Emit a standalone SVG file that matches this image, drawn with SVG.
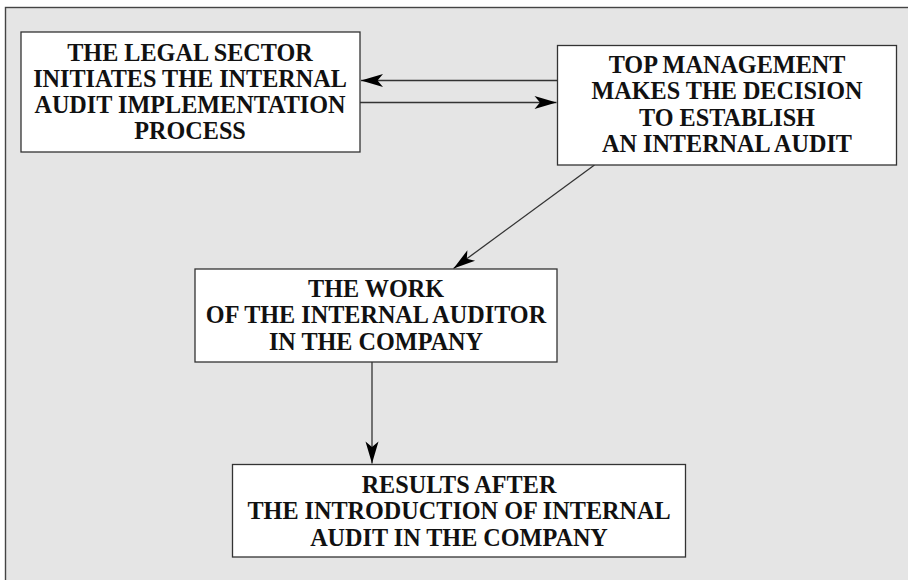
<svg xmlns="http://www.w3.org/2000/svg" width="908" height="580" viewBox="0 0 908 580">
  <style>
    .frame { fill: #e5e5e5; stroke: #444; stroke-width: 1.4; }
    .box { fill: #ffffff; stroke: #333; stroke-width: 1.3; }
    .lbl { font-family: "Liberation Serif", "Times New Roman", serif; font-weight: bold; font-size: 24.2px; fill: #111; text-anchor: middle; }
    .conn { stroke: #333; stroke-width: 1.3; fill: none; marker-end: url(#head); }
  </style>
  <defs>
    <marker id="head" markerUnits="userSpaceOnUse" viewBox="-23 -7 24 14" markerWidth="24" markerHeight="14" refX="0" refY="0" orient="auto">
      <path d="M0,0 L-22,-6.5 L-16.5,0 L-22,6.5 Z" fill="#000"/>
    </marker>
  </defs>

  <!-- background panel -->
  <rect class="frame" x="5.5" y="7.5" width="920" height="600"/>

  <g id="connectors">
    <line class="conn" x1="557.5" y1="80.5" x2="361" y2="80.5"/>
    <line class="conn" x1="360" y1="102.5" x2="556.5" y2="102.5"/>
    <line class="conn" x1="594.5" y1="165" x2="453.5" y2="268.5"/>
    <line class="conn" x1="372" y1="362" x2="372" y2="463.5"/>
  </g>

  <g id="legal-sector">
    <rect class="box" x="21" y="32" width="339" height="120"/>
    <text class="lbl" x="190" y="61">THE LEGAL SECTOR</text>
    <text class="lbl" x="190" y="87">INITIATES THE INTERNAL</text>
    <text class="lbl" x="190" y="113">AUDIT IMPLEMENTATION</text>
    <text class="lbl" x="190" y="138.5">PROCESS</text>
  </g>

  <g id="top-management">
    <rect class="box" x="557.5" y="45.5" width="339" height="119.5"/>
    <text class="lbl" x="727" y="72.5">TOP MANAGEMENT</text>
    <text class="lbl" x="727" y="99">MAKES THE DECISION</text>
    <text class="lbl" x="727" y="125.5">TO ESTABLISH</text>
    <text class="lbl" x="727" y="151.5">AN INTERNAL AUDIT</text>
  </g>

  <g id="internal-auditor">
    <rect class="box" x="195" y="269" width="362" height="93"/>
    <text class="lbl" x="376" y="296.5">THE WORK</text>
    <text class="lbl" x="376" y="323">OF THE INTERNAL AUDITOR</text>
    <text class="lbl" x="376" y="349.5">IN THE COMPANY</text>
  </g>

  <g id="results">
    <rect class="box" x="232.5" y="464.5" width="453" height="92.5"/>
    <text class="lbl" x="459" y="492.5">RESULTS AFTER</text>
    <text class="lbl" x="459" y="519">THE INTRODUCTION OF INTERNAL</text>
    <text class="lbl" x="459" y="545.5">AUDIT IN THE COMPANY</text>
  </g>
</svg>
